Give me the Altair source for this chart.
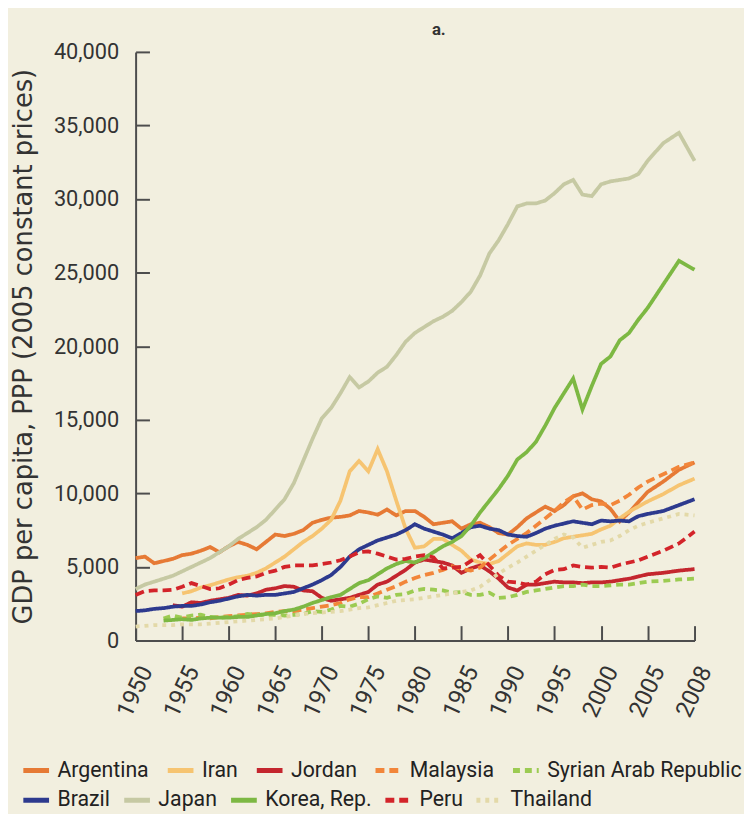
import altair as alt
import pandas as pd

# ---------------- data ----------------
row1 = ["Argentina", "Iran", "Jordan", "Malaysia", "Syrian Arab Republic"]
row2 = ["Brazil", "Japan", "Korea, Rep.", "Peru", "Thailand"]
colors1 = ["#E67A35", "#F6C471", "#C4262E", "#F2863A", "#9CCB52"]
colors2 = ["#2D3A8E", "#C6C9A3", "#7DB843", "#D3242A", "#E3D9A8"]
dashes1 = [[1, 0], [1, 0], [1, 0], [9, 5], [7, 5]]
dashes2 = [[1, 0], [1, 0], [1, 0], [9, 5], [4, 5]]

start_year = {
    "Argentina": 1950, "Iran": 1955, "Jordan": 1954, "Malaysia": 1955,
    "Syrian Arab Republic": 1953, "Brazil": 1950, "Japan": 1950,
    "Korea, Rep.": 1953, "Peru": 1950, "Thailand": 1950,
}

argentina = [5600, 5700, 5250, 5400, 5550, 5800, 5900, 6100, 6350, 6000,
             6400, 6700, 6500, 6200, 6700, 7200, 7100, 7250, 7500, 8000,
             8200, 8350, 8400, 8500, 8800, 8700, 8550, 8900, 8500, 8800,
             8800, 8400, 7900, 8000, 8100, 7600, 7900, 8000, 7700, 7300,
             7200, 7700, 8300, 8700, 9100, 8800, 9200, 9800, 10000, 9600,
             9450, 8950, 8100, 8700, 9400, 10100, 10800, 11600, 12100]
iran = [3200, 3350, 3600, 3750, 3950,
        4150, 4300, 4400, 4600, 4900, 5300, 5700, 6200, 6700, 7100,
        7600, 8200, 9500, 11500, 12200, 11500, 13000, 11500, 9500, 7600,
        6300, 6400, 6900, 6900, 6500, 6100, 5500, 5300, 5200, 5400,
        5900, 6400, 6600, 6500, 6500, 6700, 6950, 7050, 7150, 7250,
        7550, 7800, 8300, 8750, 9100, 9450, 9950, 10550, 11000]
jordan = [2400, 2300, 2600, 2550, 2700, 2800,
          2900, 3100, 3050, 3200, 3450, 3550, 3700, 3650, 3400, 3350,
          2900, 2700, 2800, 2900, 3100, 3300, 3800, 4000, 4400, 4800,
          5300, 5500, 5400, 5300, 5100, 4600, 4900, 5100, 4700, 4200,
          3600, 3400, 3800, 3800, 3900, 4000, 3950, 3950, 3900, 3950,
          3950, 4000, 4100, 4200, 4350, 4500, 4600, 4750, 4850]
malaysia = [1500, 1500, 1550, 1500, 1600,
            1650, 1700, 1750, 1800, 1850, 1950, 2000, 2000, 2100, 2200,
            2300, 2400, 2550, 2800, 2950, 2950, 3200, 3450, 3700, 4000,
            4250, 4450, 4600, 4800, 5050, 4850, 4750, 4950, 5500, 6000,
            6500, 6900, 7300, 7800, 8300, 8800, 9400, 9800, 8900, 9200,
            9300, 9200, 9500, 9900, 10400, 10800, 11300, 11800, 12100]
syria = [1500, 1700, 1550, 1700, 1750, 1600, 1550,
         1600, 1650, 1800, 1750, 1750, 1750, 1700, 1750, 1800, 2000,
         1950, 2100, 2350, 2300, 2500, 2800, 3000, 2900, 3100, 3150,
         3400, 3500, 3450, 3400, 3250, 3300, 3100, 3100, 3250, 2900,
         2950, 3100, 3300, 3400, 3500, 3600, 3700, 3700, 3800, 3700,
         3700, 3750, 3800, 3800, 3900, 4000, 4050, 4150, 4200]
brazil = [2000, 2050, 2150, 2200, 2300, 2350, 2350, 2450, 2600, 2700,
          2850, 3000, 3100, 3050, 3100, 3100, 3200, 3300, 3550, 3800,
          4100, 4450, 5000, 5700, 6200, 6500, 6800, 7000, 7200, 7500,
          7900, 7600, 7400, 7200, 6950, 7300, 7700, 7800, 7600, 7500,
          7200, 7100, 7050, 7300, 7600, 7800, 7950, 8100, 8000, 7900,
          8150, 8100, 8150, 8100, 8450, 8600, 8800, 9200, 9600]
japan = [3500, 3800, 4000, 4200, 4400, 4700, 5000, 5300, 5600, 6000,
         6400, 6900, 7300, 7700, 8200, 8900, 9600, 10700, 12200, 13700,
         15100, 15800, 16800, 17900, 17200, 17600, 18200, 18600, 19400, 20300,
         20900, 21300, 21700, 22000, 22400, 23000, 23700, 24800, 26300, 27200,
         28300, 29500, 29700, 29700, 29900, 30400, 31000, 31300, 30300, 30200,
         31000, 31200, 31300, 31400, 31700, 32600, 33800, 34500, 32600]
korea = [1350, 1400, 1450, 1400, 1500, 1550, 1550,
         1550, 1600, 1600, 1700, 1800, 1850, 2000, 2100, 2300, 2550,
         2750, 2950, 3100, 3500, 3900, 4100, 4500, 4900, 5200, 5400,
         5300, 5600, 6000, 6400, 6700, 7100, 7800, 8700, 9500, 10300,
         11200, 12300, 12800, 13500, 14600, 15800, 16800, 17800, 15700, 17300,
         18800, 19300, 20400, 20900, 21800, 22600, 24200, 25800, 25200]
peru = [3100, 3350, 3400, 3400, 3450, 3650, 3900, 3700, 3500, 3550,
        3800, 4100, 4250, 4350, 4600, 4750, 5000, 5100, 5100, 5100,
        5200, 5300, 5450, 5700, 6000, 6050, 5900, 5700, 5500, 5550,
        5700, 5800, 5650, 4900, 4950, 5000, 5400, 5800, 5100, 4400,
        4000, 3950, 3800, 4000, 4500, 4800, 4850, 5100, 5000, 4950,
        5000, 4950, 5150, 5300, 5450, 5700, 6100, 6600, 7400]
thailand = [950, 1000, 1050, 1050, 1050, 1100, 1100, 1100, 1150, 1200,
            1250, 1300, 1350, 1400, 1450, 1500, 1600, 1700, 1800, 1850,
            1900, 1950, 2000, 2100, 2200, 2250, 2400, 2550, 2700, 2750,
            2800, 2900, 3000, 3100, 3200, 3300, 3400, 3650, 4100, 4550,
            4950, 5300, 5700, 6100, 6500, 6900, 7200, 7000, 6300, 6500,
            6700, 6800, 7100, 7500, 7800, 8000, 8300, 8600, 8500]

series = {
    "Argentina": argentina, "Iran": iran, "Jordan": jordan, "Malaysia": malaysia,
    "Syrian Arab Republic": syria, "Brazil": brazil, "Japan": japan,
    "Korea, Rep.": korea, "Peru": peru, "Thailand": thailand,
}

x_ticks = [1950, 1955, 1960, 1965, 1970, 1975, 1980, 1985, 1990, 1995, 2000, 2005, 2008]
y_ticks = list(range(0, 40001, 5000))


def frame(names):
    rows = []
    for c in names:
        for i, v in enumerate(series[c]):
            rows.append({"country": c, "year": start_year[c] + i, "gdp": v})
    return pd.DataFrame(rows)


df1 = frame(row1)
df2 = frame(row2)
df_all = pd.concat([df1, df2], ignore_index=True)

# ---------------- chart ----------------
W, H = 565, 595
FONT = "Roboto"
AX = "#4d4d4d"

x_scale = alt.Scale(domain=[1950, 2005, 2008], range=[0, 517.6, W], nice=False, zero=False)
y_scale = alt.Scale(domain=[0, 40000], nice=False, zero=True)


def legend(y, pad):
    return alt.Legend(orient="none", legendX=-116, legendY=y,
                      direction="horizontal", columns=5, title=None,
                      symbolType="stroke", symbolStrokeWidth=5,
                      symbolSize=676, labelFont=FONT,
                      labelFontSize=21.5, labelColor="#222",
                      columnPadding=pad, labelOffset=6, padding=0, labelLimit=300)


x_main = alt.X("year:Q", scale=x_scale,
               axis=alt.Axis(values=x_ticks, format="d", labelAngle=295,
                             labelAlign="right", labelBaseline="top", labelPadding=22,
                             labelFont=FONT, labelFontSize=24, labelColor="#333",
                             ticks=False, domainColor=AX, domainWidth=2,
                             labelOverlap=False, labelFlush=False, grid=False, title=None))
y_main = alt.Y("gdp:Q", scale=y_scale,
               axis=alt.Axis(values=y_ticks, format=",d", labelFont=FONT, labelFontSize=22,
                             labelColor="#333", labelPadding=17, ticks=False,
                             domainColor=AX, domainWidth=2, grid=False,
                             title="GDP per capita, PPP (2005 constant prices)",
                             titleFont="DejaVu Sans", titleFontSize=26,
                             titleFontWeight="normal", titleColor="#333",
                             titleX=-100, titleY=H / 2, titleAlign="center",
                             titleBaseline="bottom", titleAngle=270))

lines1 = alt.Chart(df1).mark_line(strokeWidth=3.8, strokeCap="butt").encode(
    x=x_main,
    y=y_main,
    color=alt.Color("country:N", scale=alt.Scale(domain=row1, range=colors1),
                    sort=row1, legend=legend(711, 8)),
    strokeDash=alt.StrokeDash("country:N", scale=alt.Scale(domain=row1, range=dashes1),
                              sort=row1, legend=legend(711, 8)),
)

lines2 = alt.Chart(df2).mark_line(strokeWidth=3.8, strokeCap="butt").encode(
    x=alt.X("year:Q", scale=x_scale, axis=None),
    y=alt.Y("gdp:Q", scale=y_scale, axis=None),
    color=alt.Color("country:N", scale=alt.Scale(domain=row2, range=colors2),
                    sort=row2, legend=legend(741, 3)),
    strokeDash=alt.StrokeDash("country:N", scale=alt.Scale(domain=row2, range=dashes2),
                              sort=row2, legend=legend(741, 3)),
)

inner_ticks = alt.Chart(df_all).mark_point(opacity=0).encode(
    x=alt.X("year:Q", scale=x_scale,
            axis=alt.Axis(orient="top", offset=-H, values=x_ticks, labels=False,
                          domain=False, tickSize=15, tickWidth=2, tickColor=AX,
                          grid=False, title=None)),
    y=alt.Y("gdp:Q", scale=y_scale,
            axis=alt.Axis(orient="right", offset=-W, values=y_ticks, labels=False,
                          domain=False, tickSize=14, tickWidth=2, tickColor=AX,
                          grid=False, title=None)),
)

chart = alt.layer(lines1, lines2, inner_ticks).resolve_scale(
    color="independent", strokeDash="independent"
).resolve_legend(
    color="independent", strokeDash="independent"
).resolve_axis(
    x="independent", y="independent"
).properties(
    width=W, height=H,
    title=alt.TitleParams("a.", font=FONT, fontSize=17, fontWeight="bold",
                          color="#333", anchor="middle", dx=24, offset=2),
    padding={"left": 129, "top": 40, "right": 50, "bottom": 171},
    autosize=alt.AutoSizeParams(type="none"),
    background="#F2EFDF",
).configure_view(stroke=None).configure_axis(grid=False)

chart.save("out.html", embed_options={"renderer": "svg", "actions": False})
